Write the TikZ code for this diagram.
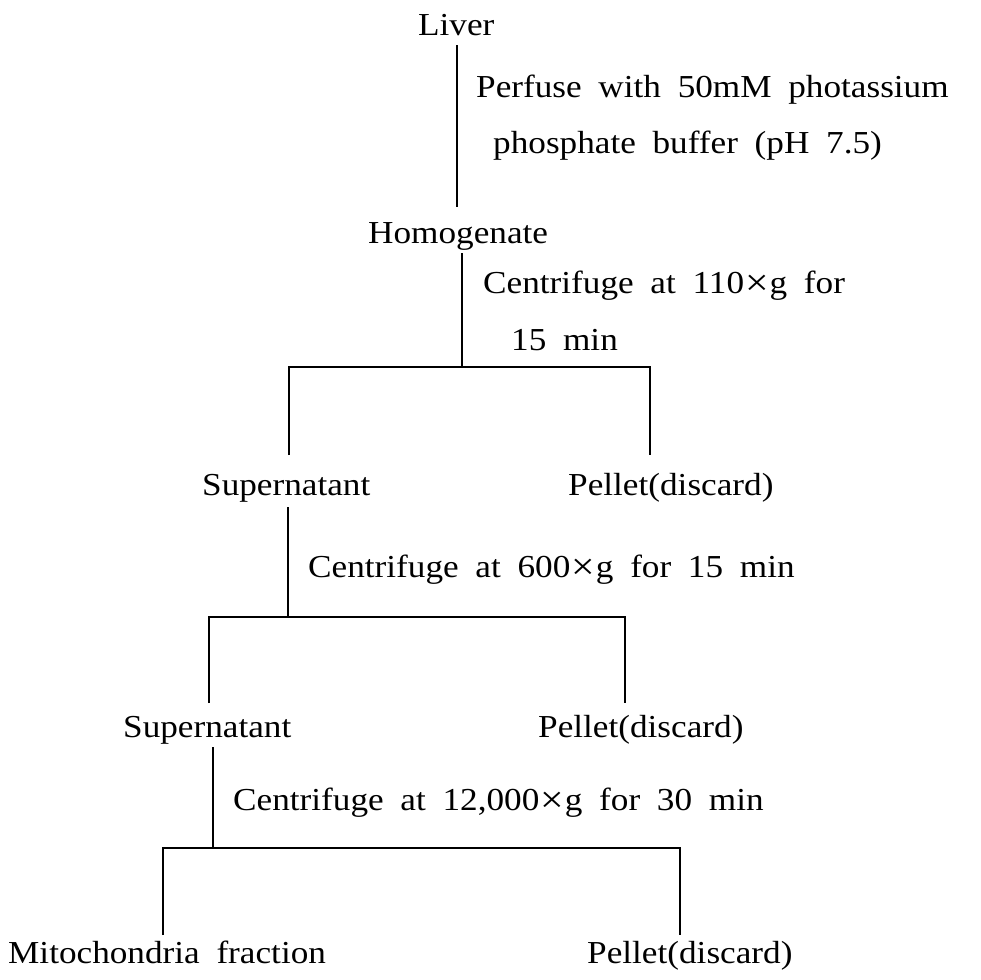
\documentclass[tikz,border=0pt]{standalone}
\usepackage{fontspec}
\setmainfont{Liberation Serif}[FakeStretch=1.1, WordSpace=1.9]
\newcommand{\tms}{\hspace{1pt}\raisebox{-2pt}{\fontsize{38}{38}\selectfont ×}\hspace{1pt}}
\begin{document}
\begin{tikzpicture}[x=1pt,y=-1pt,
  lbl/.style={inner sep=0pt, anchor=base west, font=\fontsize{32}{38}\selectfont},
  conn/.style={line width=1.1pt, black}]
\useasboundingbox[fill=white] (0,0) rectangle (980,980);

% text nodes
\node[lbl] (liver) at (418,35) {Liver};
\node[lbl] (perf1) at (476,97) {Perfuse with 50mM photassium};
\node[lbl] (perf2) at (493,153) {phosphate buffer (pH 7.5)};
\node[lbl] (hom) at (368,243) {Homogenate};
\node[lbl] (cA1) at (483,293) {Centrifuge at 110\tms g for};
\node[lbl] (cA2) at (511,350) {15 min};
\node[lbl] (sup1) at (202,495) {Supernatant};
\node[lbl] (pel1) at (568,495) {Pellet(discard)};
\node[lbl] (cB) at (308,577) {Centrifuge at 600\tms g for 15 min};
\node[lbl] (sup2) at (123,737) {Supernatant};
\node[lbl] (pel2) at (538,737) {Pellet(discard)};
\node[lbl] (cC) at (233,810) {Centrifuge at 12,000\tms g for 30 min};
\node[lbl] (mito) at (8,963) {Mitochondria fraction};
\node[lbl] (pel3) at (587,963) {Pellet(discard)};

% connector end points
\coordinate (a0) at (457,45);
\coordinate (a1) at (457,207);
\coordinate (b0) at (462,253);
\coordinate (bj) at (462,367);
\coordinate (bl) at (289,367);
\coordinate (br) at (650,367);
\coordinate (bld) at (289,455);
\coordinate (brd) at (650,455);
\coordinate (c0) at (288,507);
\coordinate (cj) at (288,617);
\coordinate (cl) at (209,617);
\coordinate (cr) at (625,617);
\coordinate (cld) at (209,703);
\coordinate (crd) at (625,703);
\coordinate (d0) at (213,747);
\coordinate (dj) at (213,848);
\coordinate (dl) at (163,848);
\coordinate (dr) at (680,848);
\coordinate (dld) at (163,935);
\coordinate (drd) at (680,935);

% connectors
\draw[conn] (a0) -- (a1);
\draw[conn] (b0) -- (bj);
\draw[conn] (bld) -- (bl) -- (br) -- (brd);
\draw[conn] (c0) -- (cj);
\draw[conn] (cld) -- (cl) -- (cr) -- (crd);
\draw[conn] (d0) -- (dj);
\draw[conn] (dld) -- (dl) -- (dr) -- (drd);
\end{tikzpicture}
\end{document}
